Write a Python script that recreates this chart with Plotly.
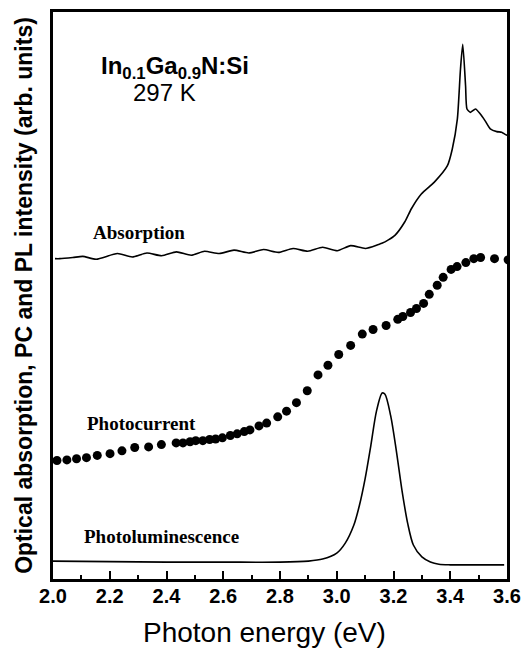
import plotly.graph_objects as go

# ---- data (arbitrary intensity units) ----
abs_energy = [2.007, 2.024, 2.070, 2.105, 2.152, 2.227, 2.279, 2.331, 2.383, 2.435,
              2.487, 2.534, 2.586, 2.638, 2.690, 2.742, 2.794, 2.846, 2.898, 2.950,
              3.002, 3.049, 3.101, 3.147, 3.159, 3.182, 3.205, 3.240, 3.263, 3.298,
              3.344, 3.390, 3.407, 3.425, 3.436, 3.444, 3.454, 3.459, 3.471, 3.489,
              3.506, 3.523, 3.541, 3.564, 3.581, 3.598, 3.616]
abs_intensity = [56.5, 56.5, 56.7, 56.9, 56.4, 57.4, 56.8, 57.5, 57.0, 57.7,
                 57.1, 57.8, 57.4, 58.0, 57.5, 58.1, 57.6, 58.3, 57.8, 58.5,
                 57.9, 58.8, 58.3, 59.0, 59.2, 59.8, 60.6, 63.0, 65.3, 67.9,
                 70.0, 72.9, 75.8, 81.1, 89.9, 94.3, 87.0, 82.9, 82.3, 82.9,
                 82.0, 80.8, 79.4, 78.9, 78.8, 78.3, 78.2]

pc_energy = [2.014, 2.049, 2.083, 2.118, 2.156, 2.201, 2.243, 2.288, 2.337, 2.382,
             2.434, 2.458, 2.483, 2.503, 2.528, 2.552, 2.573, 2.597, 2.625, 2.649,
             2.674, 2.694, 2.726, 2.753, 2.792, 2.823, 2.858, 2.896, 2.934, 2.969,
             3.007, 3.049, 3.090, 3.128, 3.174, 3.215, 3.233, 3.260, 3.281, 3.306,
             3.326, 3.354, 3.375, 3.403, 3.424, 3.455, 3.483, 3.507, 3.556, 3.604]
pc_intensity = [20.9, 21.0, 21.2, 21.4, 21.8, 22.1, 22.6, 23.2, 23.3, 23.7,
                24.0, 24.0, 24.2, 24.4, 24.4, 24.6, 24.7, 24.9, 25.3, 25.6,
                26.0, 26.3, 27.0, 27.5, 28.6, 29.6, 31.1, 33.2, 36.0, 37.7,
                39.6, 41.2, 43.2, 44.0, 44.7, 45.8, 46.3, 47.0, 47.7, 48.6,
                50.2, 51.8, 53.2, 54.6, 55.1, 55.8, 56.5, 56.7, 56.5, 56.3]

pl_energy = [2.00, 2.20, 2.40, 2.60, 2.80, 2.90, 2.95, 3.00, 3.03, 3.06,
             3.08, 3.10, 3.12, 3.14, 3.16, 3.17, 3.19, 3.21, 3.23, 3.25,
             3.27, 3.30, 3.33, 3.36, 3.40, 3.50, 3.59]
pl_intensity = [3.16, 3.07, 2.98, 2.98, 2.98, 3.16, 3.51, 4.56, 6.32, 9.47,
                13.0, 17.7, 23.5, 29.6, 32.8, 32.6, 28.8, 22.6, 15.6, 9.8,
                6.0, 3.9, 3.0, 2.6, 2.5, 2.5, 2.5]

x_ticks = [2.0, 2.2, 2.4, 2.6, 2.8, 3.0, 3.2, 3.4, 3.6]
x_tick_labels = ["2.0", "2.2", "2.4", "2.6", "2.8", "3.0", "3.2", "3.4", "3.6"]

curve_labels = ["Absorption", "Photocurrent", "Photoluminescence"]
label_pos_x = [2.135, 2.111, 2.101]
label_pos_y = [61.2, 27.5, 7.5]

# ---- figure ----
fig = go.Figure()
fig.add_trace(go.Scatter(x=abs_energy, y=abs_intensity, mode="lines",
                         line=dict(color="black", width=1.6, shape="spline", smoothing=0.6),
                         name="Absorption"))
fig.add_trace(go.Scatter(x=pc_energy, y=pc_intensity, mode="markers",
                         marker=dict(color="black", size=9),
                         name="Photocurrent"))
fig.add_trace(go.Scatter(x=pl_energy, y=pl_intensity, mode="lines",
                         line=dict(color="black", width=1.6, shape="spline", smoothing=0.8),
                         name="Photoluminescence"))

for txt, lx, ly in zip(curve_labels, label_pos_x, label_pos_y):
    fig.add_annotation(x=lx, y=ly, text=txt, showarrow=False, xanchor="left", yanchor="middle",
                       font=dict(family="Liberation Serif", size=19, color="black", weight="bold"))

fig.add_annotation(x=2.163, y=90.2, text="In<sub>0.1</sub>Ga<sub>0.9</sub>N:Si", showarrow=False,
                   xanchor="left", yanchor="middle",
                   font=dict(family="Liberation Sans", size=24, color="black", weight="bold"))
fig.add_annotation(x=2.274, y=85.8, text="297 K", showarrow=False,
                   xanchor="left", yanchor="middle",
                   font=dict(family="Liberation Sans", size=24, color="black"))

# x-axis title (placed slightly left of the plot centre, as in the reference)
fig.add_annotation(x=0.465, y=-0.094, xref="paper", yref="paper", text="Photon energy (eV)",
                   showarrow=False, xanchor="center", yanchor="middle",
                   font=dict(family="Liberation Sans", size=28, color="black"))

fig.update_layout(
    width=530, height=650,
    margin=dict(l=53, r=15, t=9, b=71),
    paper_bgcolor="white", plot_bgcolor="white",
    showlegend=False,
    xaxis=dict(range=[2.0, 3.6], tickvals=x_ticks, ticktext=x_tick_labels,
               ticks="inside", ticklen=8, tickwidth=2, tickcolor="black",
               minor=dict(dtick=0.1, ticks="inside", ticklen=4, tickwidth=2, tickcolor="black"),
               showline=True, linecolor="black", linewidth=2.5, mirror=True,
               showgrid=False, zeroline=False, ticklabelstandoff=-3,
               tickfont=dict(family="Liberation Sans", size=20, color="black", weight="bold")),
    yaxis=dict(range=[0, 100], showticklabels=False, ticks="",
               showline=True, linecolor="black", linewidth=2.5, mirror=True,
               showgrid=False, zeroline=False,
               title=dict(text="Optical absorption, PC and PL intensity (arb. units)", standoff=12,
                          font=dict(family="Liberation Sans", size=23, color="black", weight="bold"))),
)

fig.write_html("out.html")
